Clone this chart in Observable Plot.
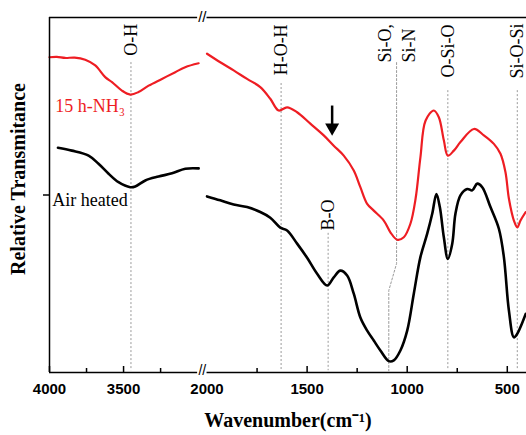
<!DOCTYPE html>
<html><head><meta charset="utf-8">
<script src="https://cdn.jsdelivr.net/npm/d3@7"></script>
<script src="https://cdn.jsdelivr.net/npm/@observablehq/plot@0.6"></script>
<style>body{margin:0;background:#fff}#chart{width:526px;height:435px}</style>
</head><body><div id="chart"></div>
<script>
// ---- data (wavenumber in cm-1, relative transmittance in arbitrary units) ----
const redLeftWn  = [4000,3950,3894,3830,3759,3691,3624,3578,3511,3455,3399,3331,3241,3151,3084,2993];
const redLeftT   = [88.8,88.9,88.6,88.7,88.1,86.5,83.2,81.8,79.4,78.3,79.0,80.8,82.7,84.6,86.0,87.1];
const blackLeftWn = [3943,3849,3736,3669,3601,3534,3455,3421,3353,3264,3173,3083,2993];
const blackLeftT  = [63.3,62.5,61.1,58.8,56.0,53.6,52.2,52.4,54.1,55.2,56.1,57.4,57.5];
const redRightWn = [2000,1934,1867,1800,1734,1684,1642,1600,1550,1484,1417,1367,1317,1267,1234,1200,1167,1117,1084,1050,1017,984,958,934,908,867,842,817,797,767,734,667,617,567,534,509,492,467,450,434,408];
const redRightT  = [89.8,87.4,85.1,82.7,80.4,77.1,73.8,74.7,73.3,70.1,66.8,63.9,61.1,56.9,52.2,47.5,45.6,42.8,39.5,37.4,38.1,41.9,49.0,60.6,71.0,73.8,71.9,65.4,61.1,62.5,64.9,68.6,66.8,64.4,61.6,56.4,49.0,42.8,40.9,42.8,45.2];
const blackRightWn = [2000,1934,1867,1800,1734,1684,1634,1600,1550,1500,1450,1400,1367,1334,1300,1267,1234,1200,1167,1134,1092,1067,1034,1000,967,934,900,875,854,837,817,797,775,759,734,700,675,650,625,584,542,517,492,467,450,434,408];
const blackRightT  = [49.6,48.5,47.3,46.6,45.2,43.6,40.8,40.0,36.3,32.3,27.8,24.5,26.8,28.7,27.3,22.2,15.5,11.8,9.0,6.2,3.2,3.4,6.2,11.8,22.2,32.5,39.1,44.7,50.3,46.6,38.1,32.0,36.3,44.7,49.9,51.7,51.3,53.2,52.2,46.6,40.5,32.5,17.5,9.9,10.9,12.8,16.5];

const majorTicks = [4000,3500,2000,1500,1000,500];
const minorTicks = [3750,3250,1750,1250,750];
const yTicks = [50];

const bandNames = ["O-H","H-O-H","B-O","Si-O,","Si-N","O-Si-O","Si-O-Si"];
const bandWn    = [3450,1630,1395,1110,988,797,450];
const bandLabelT= [89.2,83.7,40.0,87.3,87.3,83.1,82.8];
const guideWn   = [3450,1630,1395,797,450];
const guideTopT = [87.3,81.4,39.2,79.4,79.4];
const bentGuideWn = [1053,1053,1092,1092];
const bentGuideT  = [87.3,30.7,23.1,0.5];
const arrowWn = 1375, arrowFromT = 75.2, arrowToT = 69.9, arrowHeadT = 69.0;

// ---- broken x axis: 4000–3000 then 2000–404 ----
const W_MAX = 4000, BREAK_HI = 3000, BREAK_LO = 2000, W_MIN = 404;
const LEFT_K = 0.74, GAP = 47;
const u = wn => wn >= 2500 ? (W_MAX - wn) * LEFT_K : (W_MAX - BREAK_HI) * LEFT_K + GAP + (BREAK_LO - wn);

const toRows = (wn, t, seg) => wn.map((w, i) => ({w, t: t[i], seg}));
const red = [...toRows(redLeftWn, redLeftT, "a"), ...toRows(redRightWn, redRightT, "b")];
const black = [...toRows(blackLeftWn, blackLeftT, "a"), ...toRows(blackRightWn, blackRightT, "b")];
const bands = bandNames.map((n, i) => ({n, w: bandWn[i], t: bandLabelT[i]}));
const guides = guideWn.map((w, i) => ({w, t: guideTopT[i]}));
const bent = bentGuideWn.map((w, i) => ({w, t: bentGuideT[i]}));
const segs = [{a: W_MAX, b: BREAK_HI}, {a: BREAK_LO, b: W_MIN}];
const breakMid = (u(BREAK_HI) + u(BREAK_LO)) / 2;

const serif = "Liberation Serif, Times New Roman, serif";
const sans = "Liberation Sans, Arial, sans-serif";
const RED = "#ee1d23";

const plot = Plot.plot({
  width: 526, height: 435,
  marginLeft: 49, marginRight: 0, marginTop: 17, marginBottom: 63,
  style: {background: "#fff"},
  x: {domain: [u(W_MAX), u(W_MIN)], axis: null},
  y: {domain: [0, 100], axis: null},
  marks: [
    Plot.ruleX(guides, {x: d => u(d.w), y1: d => d.t, y2: 0.5, stroke: "#9a9a9a", strokeWidth: 1, strokeDasharray: "2,2"}),
    Plot.line(bent, {x: d => u(d.w), y: "t", stroke: "#9a9a9a", strokeWidth: 1, strokeDasharray: "2,2"}),
    Plot.line(red, {x: d => u(d.w), y: "t", z: "seg", stroke: RED, strokeWidth: 2.2, curve: "catmull-rom"}),
    Plot.line(black, {x: d => u(d.w), y: "t", z: "seg", stroke: "#000", strokeWidth: 2.6, curve: "catmull-rom"}),
    // frame
    Plot.ruleX([W_MAX], {x: d => u(d), stroke: "#000", strokeWidth: 1.5}),
    Plot.ruleY(segs, {y: 100, x1: d => u(d.a), x2: d => u(d.b), stroke: "#000", strokeWidth: 1.5}),
    Plot.ruleY(segs, {y: 0, x1: d => u(d.a), x2: d => u(d.b), stroke: "#000", strokeWidth: 1.5}),
    Plot.text(["//"], {x: breakMid, y: 100, fontSize: 15, fontFamily: sans, fill: "#000"}),
    Plot.text(["//"], {x: breakMid, y: 0, dy: -2, fontSize: 14, fontFamily: sans, fill: "#000"}),
    Plot.axisX({ticks: majorTicks.filter(d => d !== BREAK_LO).map(u), tickFormat: () => "", tickSize: -6, label: null, strokeWidth: 1.5}),
    Plot.axisX({ticks: minorTicks.map(u), tickFormat: () => "", tickSize: -4, label: null, strokeWidth: 1.5}),
    Plot.axisY({ticks: yTicks, tickFormat: () => "", tickSize: 6, label: null, strokeWidth: 1.5}),
    Plot.text(majorTicks, {x: d => u(d), text: d => String(d), frameAnchor: "bottom", dy: 21, fontSize: 15, fontWeight: "bold", fontFamily: sans, fill: "#000"}),
    // band labels
    Plot.text(bands, {x: d => u(d.w), y: "t", text: "n", rotate: -90, textAnchor: "start", fontSize: 18, fontFamily: serif, fill: "#000"}),
    // arrow
    Plot.link([arrowWn], {x1: d => u(d), x2: d => u(d), y1: arrowFromT, y2: arrowToT, stroke: "#000", strokeWidth: 2.5}),
    Plot.dot([arrowWn], {x: d => u(d), y: arrowHeadT, symbol: "triangle", rotate: 180, r: 5.2, fill: "#000", stroke: "none"}),
    // series labels
    Plot.text(["15 h-NH\u2083"], {x: u(3961), y: 74.9, textAnchor: "start", fontSize: 18, fontFamily: serif, fill: RED}),
    Plot.text(["Air heated"], {x: u(3982), y: 48.5, textAnchor: "start", fontSize: 18, fontFamily: serif, fill: "#000"}),
    // axis titles
    Plot.text(["Relative Transmitance"], {frameAnchor: "left", textAnchor: "middle", dx: -31, dy: -16, rotate: -90, fontSize: 20, fontWeight: "bold", fontFamily: serif, fill: "#000"}),
    Plot.text(["Wavenumber(cm\u207B\u00B9)"], {frameAnchor: "bottom", dy: 54, fontSize: 20, fontWeight: "bold", fontFamily: serif, fill: "#000"})
  ]
});
document.getElementById("chart").appendChild(plot);
</script>
</body></html>
